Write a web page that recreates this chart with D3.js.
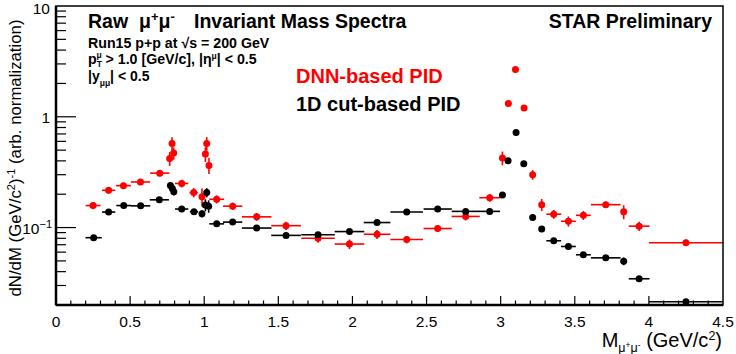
<!DOCTYPE html>
<html><head><meta charset="utf-8">
<script src="https://cdn.jsdelivr.net/npm/d3@7/dist/d3.min.js"></script>
<style>body{margin:0;background:#fff}svg{display:block}text{font-family:"Liberation Sans",Arial,sans-serif}</style>
</head><body><svg id="c" width="736" height="354"></svg>
<script>
// DNN-based PID (red)
const dnnMass = [0.25,0.355,0.455,0.57,0.70,0.767,0.783,0.794,0.848,0.929,0.985,1.008,1.017,1.032,1.084,1.192,1.354,1.552,1.768,1.98,2.166,2.366,2.575,2.764,2.926,3.012,3.052,3.10,3.158,3.216,3.277,3.358,3.457,3.558,3.709,3.83,3.934,4.25];
const dnnValue = [0.158,0.217,0.239,0.258,0.31,0.42,0.575,0.47,0.25,0.207,0.19,0.461,0.575,0.364,0.18,0.156,0.125,0.104,0.080,0.071,0.087,0.078,0.098,0.126,0.186,0.425,1.32,2.67,1.20,0.30,0.161,0.132,0.114,0.129,0.161,0.139,0.103,0.073];
const dnnXErr = [0.05,0.045,0.05,0.065,0.065,0.004,0.004,0.004,0.045,0.028,0.01,0.004,0.004,0.004,0.05,0.065,0.10,0.10,0.113,0.10,0.09,0.11,0.095,0.095,0.07,0.008,0.015,0.015,0.015,0.015,0.02,0.05,0.05,0.05,0.10,0.02,0.07,0.25];
const dnnYErr = [0.012,0.015,0.015,0.015,0.02,0.06,0.08,0.06,0.02,0.02,0.035,0.07,0.08,0.06,0.015,0.012,0.01,0.009,0.007,0.007,0.008,0.006,0.007,0.01,0.015,0.06,0.05,0.1,0.05,0.03,0.02,0.012,0.012,0.012,0.01,0.02,0.01,0.005];
// 1D cut-based PID (black)
const cutMass = [0.254,0.355,0.457,0.571,0.697,0.772,0.785,0.795,0.848,0.931,0.985,1.008,1.017,1.03,1.084,1.192,1.354,1.552,1.768,1.98,2.166,2.366,2.575,2.764,2.926,3.012,3.05,3.104,3.156,3.216,3.277,3.358,3.457,3.558,3.709,3.83,3.934,4.25];
const cutValue = [0.081,0.138,0.158,0.157,0.178,0.24,0.225,0.21,0.147,0.139,0.133,0.16,0.207,0.156,0.108,0.112,0.099,0.085,0.086,0.092,0.111,0.138,0.147,0.14,0.14,0.197,0.40,0.72,0.377,0.123,0.097,0.076,0.0675,0.0568,0.0533,0.0497,0.0345,0.0214];
const cutXErr = [0.055,0.045,0.05,0.065,0.065,0.004,0.004,0.004,0.045,0.028,0.01,0.004,0.004,0.004,0.05,0.065,0.10,0.10,0.113,0.10,0.09,0.11,0.095,0.095,0.07,0.008,0.015,0.015,0.015,0.015,0.02,0.05,0.05,0.05,0.10,0.02,0.07,0.25];
const cutYErr = [0.004,0.006,0.006,0.006,0.008,0.015,0.015,0.015,0.007,0.008,0.01,0.02,0.02,0.02,0.005,0.005,0.004,0.003,0.003,0.003,0.004,0.005,0.005,0.005,0.006,0.01,0.02,0.03,0.02,0.008,0.006,0.004,0.004,0.003,0.003,0.004,0.002,0.001];
const xTicks = [0,0.5,1,1.5,2,2.5,3,3.5,4,4.5];

const svg = d3.select("#c");
const L=56, R=723, T=6, B=305;
const x = d3.scaleLinear().domain([0,4.5]).range([L,R]);
const y = d3.scaleLog().domain([0.02,10]).range([B,T]);

function series(mass, val, xe, ye, color){
  const g = svg.append("g");
  mass.forEach((m,i)=>{
    g.append("line").attr("x1",x(m-xe[i])).attr("x2",x(m+xe[i])).attr("y1",y(val[i])).attr("y2",y(val[i]))
      .attr("stroke",color).attr("stroke-width",1.6);
    g.append("line").attr("x1",x(m)).attr("x2",x(m)).attr("y1",y(val[i]+ye[i])).attr("y2",y(Math.max(val[i]-ye[i],0.0201)))
      .attr("stroke",color).attr("stroke-width",1.6);
    g.append("circle").attr("cx",x(m)).attr("cy",y(val[i])).attr("r",3.5).attr("fill",color);
  });
}
series(dnnMass,dnnValue,dnnXErr,dnnYErr,"#ff0000");
series(cutMass,cutValue,cutXErr,cutYErr,"#000000");

// frame
svg.append("rect").attr("x",L).attr("y",T).attr("width",R-L).attr("height",B-T).attr("fill","none").attr("stroke","#000").attr("stroke-width",1.5);
svg.append("line").attr("x1",L).attr("x2",L).attr("y1",T).attr("y2",B).attr("stroke","#000").attr("stroke-width",2.5);
svg.append("line").attr("x1",L).attr("x2",R).attr("y1",B).attr("y2",B).attr("stroke","#000").attr("stroke-width",2.5);

// x ticks
const xt = svg.append("g");
d3.range(1,45).forEach(k=>{
  const v=k/10, major = k%5===0;
  xt.append("line").attr("x1",x(v)).attr("x2",x(v)).attr("y1",B).attr("y2",B-(major?9:4.5)).attr("stroke","#000").attr("stroke-width",1.2);
});
xTicks.forEach(v=>{
  xt.append("text").attr("x",x(v)).attr("y",B+22).attr("text-anchor","middle").attr("font-size",15.5).text(v);
});
// y ticks
const yt = svg.append("g");
const yMinor = [0.03,0.04,0.05,0.06,0.07,0.08,0.09,0.2,0.3,0.4,0.5,0.6,0.7,0.8,0.9,2,3,4,5,6,7,8,9];
yMinor.forEach(v=>{
  yt.append("line").attr("x1",L).attr("x2",L+10).attr("y1",y(v)).attr("y2",y(v)).attr("stroke","#000").attr("stroke-width",1.2);
});
[0.1,1].forEach(v=>{
  yt.append("line").attr("x1",L).attr("x2",L+20).attr("y1",y(v)).attr("y2",y(v)).attr("stroke","#000").attr("stroke-width",1.2);
});
yt.append("text").attr("x",50).attr("y",14).attr("text-anchor","end").attr("font-size",15.5).text("10");
yt.append("text").attr("x",50).attr("y",y(1)+6).attr("text-anchor","end").attr("font-size",15.5).text("1");
const t01 = yt.append("text").attr("x",52).attr("y",y(0.1)+6).attr("text-anchor","end").attr("font-size",15.5);
t01.append("tspan").text("10");
t01.append("tspan").attr("dy",-6).attr("font-size",11).text("−1");

// axis titles
const yl = svg.append("text").attr("transform","translate(21,158) rotate(-90)").attr("text-anchor","middle").attr("font-size",16.8);
yl.append("tspan").text("dN/dM (GeV/c");
yl.append("tspan").attr("dy",-6).attr("font-size",11).text("2");
yl.append("tspan").attr("dy",6).text(")");
yl.append("tspan").attr("dy",-6).attr("font-size",11).text("-1");
yl.append("tspan").attr("dy",6).text(" (arb. normalization)");

const xl = svg.append("text").attr("x",722).attr("y",347).attr("text-anchor","end").attr("font-size",20);
xl.append("tspan").text("M");
xl.append("tspan").attr("dy",5).attr("font-size",12.5).text("μ");
xl.append("tspan").attr("dy",-4).attr("font-size",8.5).text("+");
xl.append("tspan").attr("dy",4).attr("font-size",12.5).text("μ");
xl.append("tspan").attr("dy",-4).attr("font-size",8.5).text("-");
xl.append("tspan").attr("dy",-1).text("  (GeV/c");
xl.append("tspan").attr("dy",-7).attr("font-size",12.5).text("2");
xl.append("tspan").attr("dy",7).text(")");

// titles
const tt = svg.append("text").attr("y",28).attr("font-size",19.5).attr("font-weight","bold");
tt.append("tspan").attr("x",88).text("Raw");
tt.append("tspan").attr("x",139).text("μ");
tt.append("tspan").attr("dy",-7).attr("font-size",13).text("+");
tt.append("tspan").attr("dy",7).text("μ");
tt.append("tspan").attr("dy",-7).attr("font-size",13).text("-");
tt.append("tspan").attr("dy",7).attr("x",194).text("Invariant Mass Spectra");
svg.append("text").attr("x",712).attr("y",28).attr("text-anchor","end").attr("font-size",19.5).attr("font-weight","bold").text("STAR Preliminary");

const s1 = svg.append("text").attr("x",88).attr("y",48).attr("font-size",14.2).attr("font-weight","bold");
s1.append("tspan").text("Run15 p+p at  √s = 200 GeV");
const s2 = svg.append("text").attr("x",88).attr("y",64).attr("font-size",14.2).attr("font-weight","bold");
s2.append("tspan").text("p");
s2.append("tspan").attr("dy",3).attr("font-size",8.5).text("T");
s2.append("tspan").attr("dx",-5.5).attr("dy",-9).attr("font-size",8.5).text("μ");
s2.append("tspan").attr("dy",6).text(" > 1.0 [GeV/c], |η");
s2.append("tspan").attr("dy",-5).attr("font-size",8.5).text("μ");
s2.append("tspan").attr("dy",5).text("| < 0.5");
const s3 = svg.append("text").attr("x",88).attr("y",81).attr("font-size",14).attr("font-weight","bold");
s3.append("tspan").text("|y");
s3.append("tspan").attr("dy",5).attr("font-size",8.5).text("μμ");
s3.append("tspan").attr("dy",-5).text("| < 0.5");

svg.append("text").attr("x",296).attr("y",83).attr("font-family","Lato, 'Open Sans', sans-serif").attr("font-weight","bold").attr("font-size",20).attr("fill","#ff0000").text("DNN-based PID");
svg.append("text").attr("x",296).attr("y",111).attr("font-family","Lato, 'Open Sans', sans-serif").attr("font-weight","bold").attr("font-size",20).attr("fill","#000").text("1D cut-based PID");
</script></body></html>
